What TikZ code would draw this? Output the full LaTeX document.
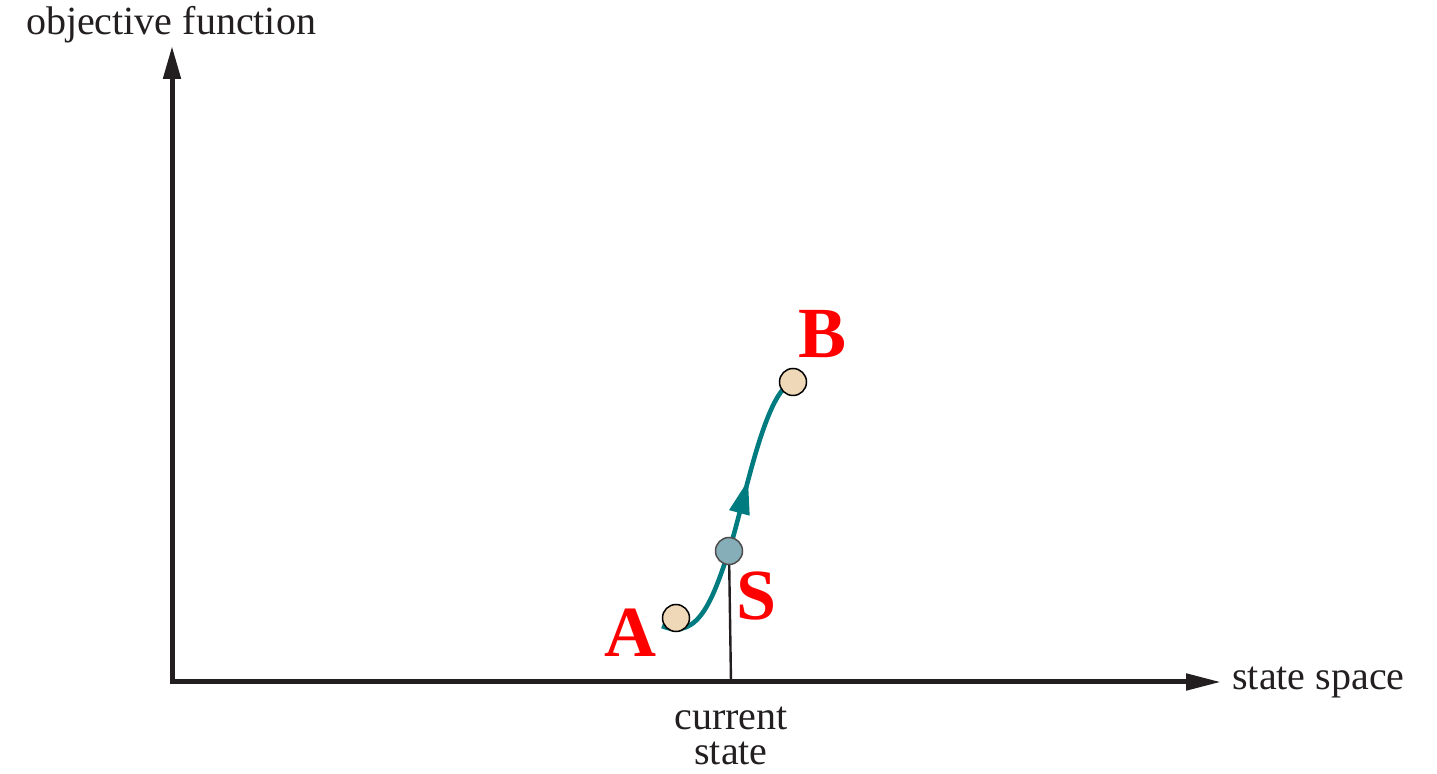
\documentclass[tikz,border=0pt]{standalone}
\usepackage{fontspec}
\setmainfont{Liberation Serif}
\usetikzlibrary{arrows.meta,decorations.markings}
\definecolor{axiscol}{HTML}{231F20}
\definecolor{tealc}{HTML}{007B80}
\definecolor{sfill}{HTML}{86AEB8}
\definecolor{beige}{HTML}{EFD8B8}
\definecolor{labred}{HTML}{FF0000}
\begin{document}
\begin{tikzpicture}[x=0.5pt,y=-0.5pt,
  axis/.style={line width=2.5pt, draw=axiscol},
  axlabel/.style={font=\fontsize{20}{18}\selectfont, text=axiscol, inner sep=0pt},
  ptlabel/.style={font=\fontsize{36}{36}\selectfont\bfseries, text=labred, inner sep=0pt, anchor=base},
  dot/.style={circle, draw=black, line width=0.75pt, minimum size=13.5pt, inner sep=0pt},
  pathline/.style={draw=tealc, line width=2.3pt},
  midarrow/.style={postaction={decorate},
    decoration={markings, mark=at position #1 with {\arrow{Triangle[length=17pt,width=10pt]}}}}
]
\useasboundingbox[fill=white] (0,0) rectangle (1437,774);
% axes
\coordinate (O) at (172,682);
\coordinate (ytip) at (172,46);
\coordinate (xtip) at (1221,682);
\draw[axis, line join=miter, {Triangle[length=16.5pt,width=8.5pt]}-{Triangle[length=17.5pt,width=8pt]}] (ytip) -- (O) -- (xtip);
\node[axlabel, anchor=base] (ylab) at (171,35) {objective function};
\node[axlabel, anchor=base west] (xlab) at (1232,690) {state space};
% points
\coordinate (start) at (662,626);
\coordinate (Spos) at (729,551);
\coordinate (Bpos) at (793,382);
\coordinate (foot) at (731,682);
% current state marker
\draw[draw=axiscol, line width=1.2pt] (foot) -- (Spos);
\node[axlabel, anchor=base] (cur1) at (731,730) {current};
\node[axlabel, anchor=base] (cur2) at (731,765) {state};
% curve
\draw[pathline, midarrow=0.63, tealc] (start) .. controls (700,642) and (714,594) .. (Spos)
   .. controls (745,500) and (765,390) .. (Bpos);
% dots
\node[dot, fill=beige] (A) at (676,618) {};
\node[dot, fill=sfill, draw=axiscol!80] (S) at (Spos) {};
\node[dot, fill=beige] (B) at (Bpos) {};
% labels
\node[ptlabel] (Alab) at (630,657) {A};
\node[ptlabel] (Slab) at (757,620) {S};
\node[ptlabel] (Blab) at (823,358) {B};
\end{tikzpicture}
\end{document}
